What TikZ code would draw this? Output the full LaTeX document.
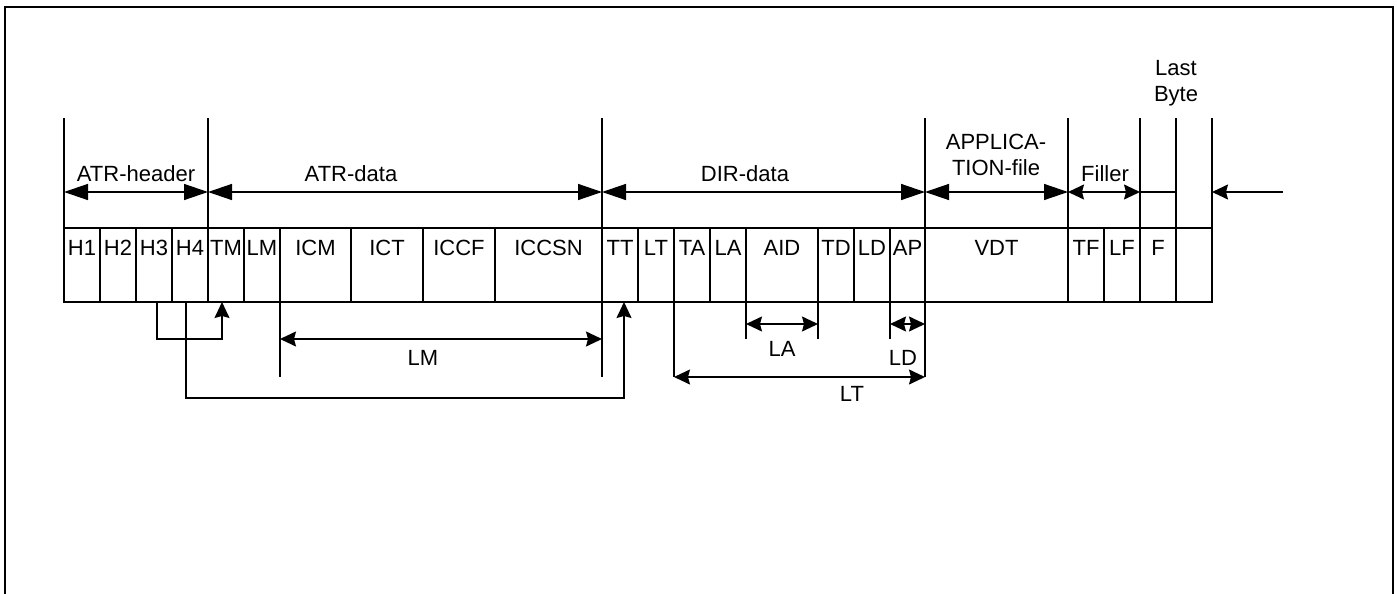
\documentclass[tikz,border=0pt]{standalone}
\usepackage{fontspec}
\setmainfont{Liberation Sans}
\usetikzlibrary{arrows.meta,positioning}

\begin{document}
\begin{tikzpicture}[x=0.5pt,y=-0.5pt,line width=0.7pt,
    font=\fontsize{11}{13.2}\selectfont,
    cell/.style={draw,anchor=north west,minimum height=37pt,inner sep=0pt,
        outer sep=0pt,text height=8pt,text depth=18pt},
    txt/.style={inner sep=0pt,text height=8pt,text depth=0pt},
    bigtip/.tip={Triangle[length=12pt,width=8pt]},
    smalltip/.tip={Stealth[length=8pt,width=7.5pt,inset=1pt]},
    bigboth/.style={bigtip-bigtip},
    smallboth/.style={smalltip-smalltip},
    smallto/.style={-smalltip}]
    \useasboundingbox (0,0) rectangle (1397,594);
    \draw[line width=1.1pt] (5,7) rectangle (1393,600);

    % the byte cells
    \node[cell,minimum width=18pt] (h1) at (64,228) {H1};
    \node[cell,minimum width=18pt,right=0pt of h1] (h2) {H2};
    \node[cell,minimum width=18pt,right=0pt of h2] (h3) {H3};
    \node[cell,minimum width=18pt,right=0pt of h3] (h4) {H4};
    \node[cell,minimum width=18pt,right=0pt of h4] (tm) {TM};
    \node[cell,minimum width=18pt,right=0pt of tm] (lm) {LM};
    \node[cell,minimum width=35.5pt,right=0pt of lm] (icm) {ICM};
    \node[cell,minimum width=36pt,right=0pt of icm] (ict) {ICT};
    \node[cell,minimum width=36pt,right=0pt of ict] (iccf) {ICCF};
    \node[cell,minimum width=53.5pt,right=0pt of iccf] (iccsn) {ICCSN};
    \node[cell,minimum width=18pt,right=0pt of iccsn] (tt) {TT};
    \node[cell,minimum width=18pt,right=0pt of tt] (lt) {LT};
    \node[cell,minimum width=18pt,right=0pt of lt] (ta) {TA};
    \node[cell,minimum width=18pt,right=0pt of ta] (la) {LA};
    \node[cell,minimum width=36pt,right=0pt of la] (aid) {AID};
    \node[cell,minimum width=18pt,right=0pt of aid] (td) {TD};
    \node[cell,minimum width=18pt,right=0pt of td] (ld) {LD};
    \node[cell,minimum width=17.5pt,right=0pt of ld] (ap) {AP};
    \node[cell,minimum width=71.5pt,right=0pt of ap] (vdt) {VDT};
    \node[cell,minimum width=18pt,right=0pt of vdt] (tf) {TF};
    \node[cell,minimum width=18pt,right=0pt of tf] (lf) {LF};
    \node[cell,minimum width=18pt,right=0pt of lf] (f) {F};
    \node[cell,minimum width=18pt,right=0pt of f] (lastb) {};

    % section borders above the cells
    \draw (h1.north west) -- ++(0,-110);
    \draw (tm.north west) -- ++(0,-110);
    \draw (tt.north west) -- ++(0,-110);
    \draw (vdt.north west) -- ++(0,-110);
    \draw (tf.north west) -- ++(0,-110);
    \draw (f.north west) -- ++(0,-110);
    \draw (lastb.north west) -- ++(0,-110);
    \draw (lastb.north east) -- ++(0,-110);

    % section arrows
    \draw[bigboth] ([yshift=18pt]h1.north west) -- ([yshift=18pt]tm.north west);
    \draw[bigboth] ([yshift=18pt]tm.north west) -- ([yshift=18pt]tt.north west);
    \draw[bigboth] ([yshift=18pt]tt.north west) -- ([yshift=18pt]vdt.north west);
    \draw[bigboth] ([yshift=18pt]vdt.north west) -- ([yshift=18pt]tf.north west);
    \draw[smallboth] ([yshift=18pt]tf.north west) -- ([yshift=18pt]f.north west);
    \draw ([yshift=18pt]f.north west) -- ([yshift=18pt]lastb.north west);
    \coordinate (rin) at (1283,192);
    \draw[smallto] (rin) -- ([yshift=18pt]lastb.north east);

    \node[txt] (hdr) at (136,173) {ATR-header};
    \node[txt] (atr) at (351,173) {ATR-data};
    \node[txt] (dir) at (745,173) {DIR-data};
    \node[align=center,inner sep=0pt] (app) at (996,155) {APPLICA-\\TION-file};
    \node[txt] (fil) at (1105,173) {Filler};
    \node[align=center,inner sep=0pt] (lastbyte) at (1176,83.5) {Last\\Byte};

    % pointers below the cells
    \draw[smallto] ([xshift=1.5pt]h3.south) -- ++(0,37) -| ([xshift=-2pt]tm.south);
    \draw[smallto] ([xshift=-2pt]h4.south) -- ++(0,96) -| ([xshift=2pt]tt.south);

    % length marks
    \draw (icm.south west) -- ++(0,75);
    \draw (iccsn.south east) -- ++(0,75);
    \draw[smallboth] ([yshift=-18.5pt]icm.south west) -- ([yshift=-18.5pt]iccsn.south east);
    \node[txt] (lmlbl) at (423,357) {LM};

    \draw (aid.south west) -- ++(0,37);
    \draw (aid.south east) -- ++(0,37);
    \draw[smallboth] ([yshift=-11pt]aid.south west) -- ([yshift=-11pt]aid.south east);
    \node[txt] (lalbl) at (782,348) {LA};

    \draw (ap.south west) -- ++(0,37);
    \draw[smallboth] ([yshift=-11pt]ap.south west) -- ([yshift=-11pt]ap.south east);
    \node[txt] (ldlbl) at (903,357) {LD};

    \draw (ta.south west) -- ++(0,75);
    \draw (ap.south east) -- ++(0,75);
    \draw[smallboth] ([yshift=-37.5pt]ta.south west) -- ([yshift=-37.5pt]ap.south east);
    \node[txt] (ltlbl) at (852,393) {LT};
\end{tikzpicture}
\end{document}
